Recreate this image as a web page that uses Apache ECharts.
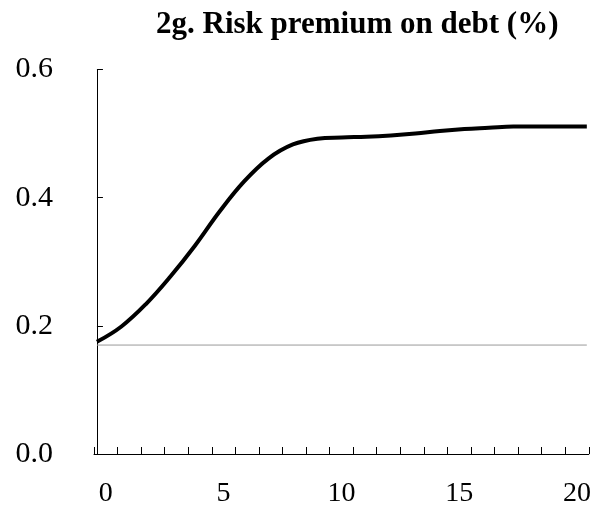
<!DOCTYPE html>
<html>
<head>
<meta charset="utf-8">
<script src="https://cdn.jsdelivr.net/npm/echarts@6/dist/echarts.min.js"></script>
<style>
html,body{margin:0;padding:0;background:#fff;}
#chart{width:594px;height:513px;}
</style>
</head>
<body>
<div id="chart"></div>
<script>
var categories = ['0','1','2','3','4','5','6','7','8','9','10','11','12','13','14','15','16','17','18','19','20'];
var periods = [0,1,2,3,4,5,6,7,8,9,10,11,12,13,14,15,16,17,18,19,20];
var premium = [0.175,0.199,0.234,0.277,0.325,0.378,0.425,0.461,0.483,0.492,0.494,0.495,0.497,0.500,0.504,0.507,0.509,0.511,0.511,0.511,0.511];
var steadyState = 0.17;
var yTicks = [0, 0.2, 0.4, 0.6];

var chart = echarts.init(document.getElementById('chart'));
var serif = '"Liberation Serif", "Times New Roman", serif';
chart.setOption({
  animation: false,
  backgroundColor: '#fff',
  title: {
    text: '2g. Risk premium on debt (%)',
    left: 151,
    top: 4,
    textStyle: {fontFamily: serif, fontWeight: 'bold', fontSize: 31, color: '#000'}
  },
  grid: {left: 94, right: 5, top: 69.5, bottom: 59},
  xAxis: [{
    type: 'category',
    data: categories,
    boundaryGap: true,
    axisLine: {show: true, lineStyle: {color: '#000', width: 1}},
    axisTick: {show: true, inside: true, length: 7, interval: 0, alignWithLabel: false, lineStyle: {color: '#000', width: 1}},
    axisLabel: {show: true, interval: 4, margin: 26, fontFamily: serif, fontSize: 28, color: '#000'},
    splitLine: {show: false}
  }, {
    type: 'value',
    min: -0.12,
    max: 20.08,
    show: false
  }],
  yAxis: {
    type: 'value',
    min: yTicks[0],
    max: yTicks[yTicks.length - 1],
    interval: 0.2,
    axisLine: {show: true, lineStyle: {color: '#000', width: 1}},
    axisTick: {show: true, inside: true, length: 6, lineStyle: {color: '#000'}},
    axisLabel: {
      margin: 41, fontFamily: serif, fontSize: 30, color: '#000',
      padding: [16, 0, 0, 0],
      formatter: function (v) { return v.toFixed(1); }
    },
    splitLine: {show: false}
  },
  series: [{
    type: 'line',
    xAxisIndex: 1,
    data: [[periods[0], steadyState], [periods[periods.length - 1], steadyState]],
    symbol: 'none',
    lineStyle: {color: '#999', width: 1},
    z: 1
  }, {
    type: 'line',
    xAxisIndex: 1,
    data: periods.map(function (p, i) { return [p, premium[i]]; }),
    smooth: 0.4,
    symbol: 'none',
    lineStyle: {color: '#000', width: 4},
    z: 2
  }]
});
</script>
</body>
</html>
